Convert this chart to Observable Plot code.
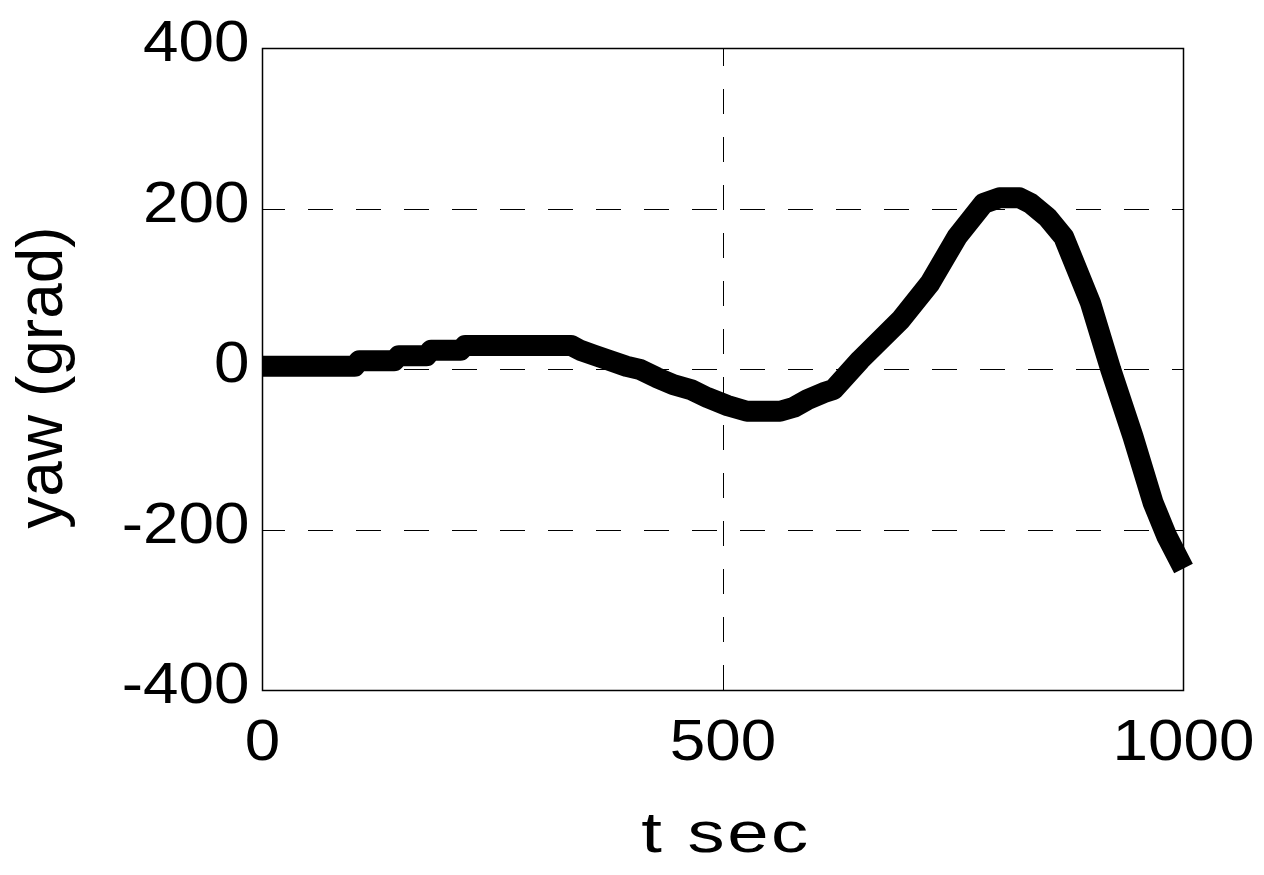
<!DOCTYPE html>
<html>
<head>
<meta charset="utf-8">
<script src="https://cdn.jsdelivr.net/npm/d3@7"></script>
<script src="https://cdn.jsdelivr.net/npm/@observablehq/plot@0.6"></script>
<style>
  body { margin: 0; background: #fff; }
  #chart svg { display: block; }
</style>
</head>
<body>
<div id="chart"></div>
<script>
// time (s) and yaw (grad)
const tValues   = [0, 100, 105, 143, 148, 178, 183, 215, 220, 335, 345, 360, 375, 395, 410, 428, 446, 465, 483, 505, 526, 562, 577, 591, 609, 620, 649, 693, 725, 754, 783, 800, 822, 834, 852, 870, 899, 921, 945, 967, 982, 1000];
const yawValues = [4, 4, 11, 11, 17, 17, 24, 24, 30, 30, 24, 18, 12, 4, 0, -10, -19, -25, -35, -45, -52, -52, -47, -38, -29, -25, 12, 62, 108, 165, 207, 214, 214, 207, 190, 165, 83, 0, -83, -166, -208, -248];
const xTicks = [0, 500, 1000];
const yTicks = [-400, -200, 0, 200, 400];
const xGrid = [500];
const yGrid = [-200, 0, 200];
const xLabel = "t sec";
const yLabel = "yaw (grad)";

const data = tValues.map((t, i) => ({t, yaw: yawValues[i]}));
const fmt = d => String(d);

const chart = Plot.plot({
  width: 1264,
  height: 875,
  marginLeft: 262,
  marginRight: 81,
  marginTop: 48,
  marginBottom: 185,
  style: {fontFamily: "'Liberation Sans', Arial, sans-serif", background: "#fff", color: "#000"},
  x: {domain: [0, 1000]},
  y: {domain: [-400, 400]},
  marks: [
    Plot.ruleX(xGrid, {y1: -400, y2: 400, stroke: "#000", strokeWidth: 1, strokeDasharray: "25,23", shapeRendering: "crispEdges"}),
    Plot.ruleY(yGrid, {stroke: "#000", strokeWidth: 1, strokeDasharray: "25,23", strokeDashoffset: 2, shapeRendering: "crispEdges"}),
    Plot.frame({stroke: "#000", strokeWidth: 1.5}),
    Plot.line(data, {x: "t", y: "yaw", stroke: "#000", strokeWidth: 21, strokeLinejoin: "round", strokeLinecap: "butt"}),
    Plot.axisX({ticks: xTicks, tickFormat: fmt, tickSize: 0, tickPadding: 28, fontSize: 58, label: null}),
    Plot.axisY({ticks: yTicks, tickFormat: fmt, tickSize: 0, tickPadding: 13, fontSize: 58, label: null, dy: -6}),
    Plot.text([xLabel], {frameAnchor: "bottom", textAnchor: "middle", lineAnchor: "middle", dx: 3, dy: 143, fontSize: 58, fill: "#000", className: "xlab"}),
    Plot.text([yLabel], {frameAnchor: "left", textAnchor: "middle", lineAnchor: "middle", rotate: -90, dx: -221, dy: 8, fontSize: 64, fill: "#000"})
  ]
});

document.getElementById("chart").appendChild(chart);

function stretch(sel, s) {
  chart.querySelectorAll(sel).forEach(el => {
    const tr = el.getAttribute("transform");
    if (tr) el.setAttribute("transform", tr + ` scale(${s},1)`);
    else {
      const x = +el.getAttribute("x") || 0;
      el.setAttribute("transform", `translate(${x},0) scale(${s},1) translate(${-x},0)`);
    }
  });
}
stretch('g[aria-label="x-axis tick label"] text', 1.1);
stretch('g[aria-label="y-axis tick label"] text', 1.1);
chart.querySelectorAll('.xlab text').forEach(el => el.setAttribute("letter-spacing", "2"));
stretch('.xlab text', 1.28);
</script>
</body>
</html>
